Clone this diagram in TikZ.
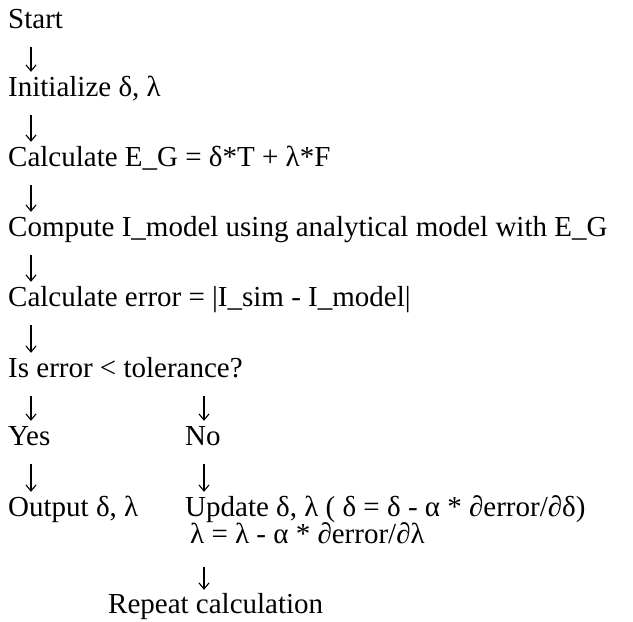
\documentclass[tikz,border=0pt]{standalone}
\usepackage{fontspec}
\setmainfont{Liberation Serif}
\usetikzlibrary{arrows.meta}
\begin{document}
\begin{tikzpicture}[x=1pt,y=1pt,
t/.style={anchor=base west,inner sep=0pt,text height=19pt,text depth=0pt,font=\fontsize{29}{34}\selectfont},
a/.style={-{Straight Barb[length=6pt,width=10pt]},line width=1.1pt,shorten <=19pt,shorten >=5pt}]
\useasboundingbox(0,0)rectangle(633,-622);
\coordinate(ax)at(31,0);\coordinate(bx)at(204,0);
\node[t](s)at(8,-28){Start};\node[t](i)at(8,-96){Initialize δ, λ};
\node[t](c)at(8,-166){Calculate E\_G = δ*T + λ*F};
\node[t](m)at(8,-236){Compute I\_model using analytical model with E\_G};
\node[t](e)at(8,-306){Calculate error = |I\_sim - I\_model|};
\node[t](q)at(8,-377){Is error < tolerance?};
\node[t](y)at(8,-445){Yes};\node[t](n)at(185,-445){No};
\node[t](o)at(8,-516){Output δ, λ};\node[t](u)at(185,-516){Update δ, λ ( δ = δ - α * ∂error/∂δ)};
\node[t](l)at(190,-543){λ = λ - α * ∂error/∂λ};
\node[t](r)at(108,-613){Repeat calculation};
\draw[a](s.south-|ax)--(i.north-|ax);\draw[a](i.south-|ax)--(c.north-|ax);\draw[a](c.south-|ax)--(m.north-|ax);
\draw[a](m.south-|ax)--(e.north-|ax);\draw[a](e.south-|ax)--(q.north-|ax);
\draw[a](q.south-|ax)--(y.north-|ax);\draw[a](q.south-|bx)--(n.north-|bx);
\draw[a](y.south-|ax)--(o.north-|ax);\draw[a](n.south-|bx)--(u.north-|bx);
\draw[a,shorten <=24pt,shorten >=4pt](l.south-|bx)--(r.north-|bx);
\end{tikzpicture}
\end{document}
